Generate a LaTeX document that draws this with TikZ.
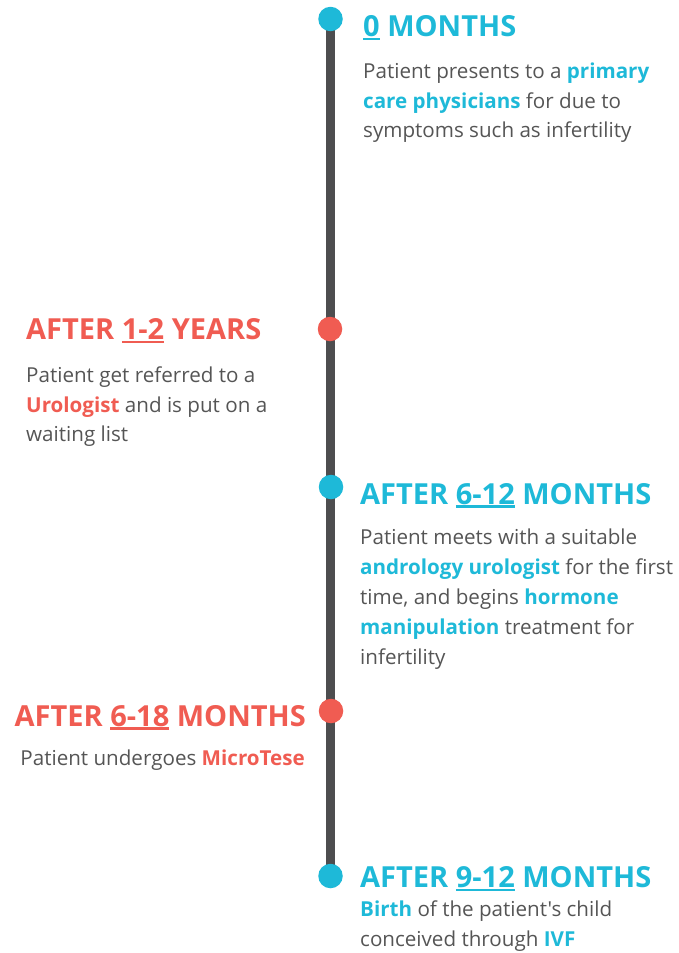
\documentclass[tikz,border=0pt]{standalone}
\usepackage{fontspec}
\usetikzlibrary{backgrounds}
\setmainfont{Open Sans}[Ligatures=TeXOff]
\definecolor{tlblue}{RGB}{30,185,216}
\definecolor{tlred}{RGB}{240,92,82}
\definecolor{tltext}{RGB}{85,85,85}
\definecolor{tlline}{RGB}{77,77,79}
\newcommand{\numul}[1]{\setbox0\hbox{#1}\rlap{\rule[-3.6pt]{\wd0}{2.2pt}}\box0\relax}
\newcommand{\hb}[1]{\textcolor{tlblue}{\bfseries #1}}
\newcommand{\hr}[1]{\textcolor{tlred}{\bfseries #1}}
\begin{document}
\begin{tikzpicture}[x=1pt,y=-1pt,
  head/.style={font=\fontsize{29}{31}\selectfont\bfseries, inner sep=0pt},
  body/.style={font=\fontsize{20.6}{29.5}\selectfont, text=tltext, inner sep=0pt},
  dot/.style={circle, inner sep=0pt, minimum size=24.5pt}]
\useasboundingbox (0,0) rectangle (678,953);
\node[dot, fill=tlblue] (d1) at (330.5,19) {};
\node[dot, fill=tlred] (d2) at (330,329) {};
\node[dot, fill=tlblue] (d3) at (331,487) {};
\node[dot, fill=tlred] (d4) at (331,711) {};
\node[dot, fill=tlblue] (d5) at (330.5,876) {};
\begin{scope}[on background layer]
\draw[tlline, line width=8.5pt] (d1.center) -- (d5.center);
\end{scope}
% 1
\node[head, text=tlblue, anchor=base west] (h1) at (363,36.5) {\numul{0} MONTHS};
\node[body, anchor=base west] (b1) at (363,78.5) {\vtop{\hbox{Patient presents to a \hb{primary}}\hbox{\hb{care physicians} for due to}\hbox{symptoms such as infertility}}};
% 2
\node[head, text=tlred, anchor=base west] (h2) at (26,339.3) {AFTER \numul{1-2} YEARS};
\node[body, anchor=base west] (b2) at (26,382.7) {\vtop{\hbox{Patient get referred to a}\hbox{\hr{Urologist} and is put on a}\hbox{waiting list}}};
% 3
\node[head, text=tlblue, anchor=base west] (h3) at (360,504) {AFTER \numul{6-12} MONTHS};
\node[body, anchor=base west, font=\fontsize{20.6}{30}\selectfont] (b3) at (360,544) {\vtop{\hbox{Patient meets with a suitable}\hbox{\hb{andrology urologist} for the first}\hbox{time, and begins \hb{hormone}}\hbox{\hb{manipulation} treatment for}\hbox{infertility}}};
% 4
\node[head, text=tlred, anchor=base east] (h4) at (306,726) {AFTER \numul{6-18} MONTHS};
\node[body, anchor=base east] (b4) at (305,765) {Patient undergoes \hr{MicroTese}};
% 5
\node[head, text=tlblue, anchor=base west] (h5) at (360,887.3) {AFTER \numul{9-12} MONTHS};
\node[body, anchor=base west] (b5) at (360,916.7) {\vtop{\hbox{\hb{Birth} of the patient's child}\hbox{conceived through \hb{IVF}}}};
\end{tikzpicture}
\end{document}
